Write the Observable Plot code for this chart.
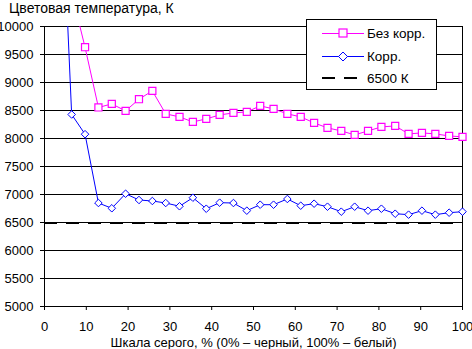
<!DOCTYPE html>
<html>
<head>
<meta charset="utf-8">
<script src="https://cdn.jsdelivr.net/npm/d3@7"></script>
<script src="https://cdn.jsdelivr.net/npm/@observablehq/plot@0.6"></script>
<style>
  html, body { margin: 0; padding: 0; background: #fff; }
  #wrap { position: relative; width: 472px; height: 349px; font-family: "Liberation Sans", Arial, sans-serif; color: #000; }
  #title { height: 16px; line-height: 16px; font-size: 14px; padding-left: 9px; white-space: nowrap; }
  #legend { position: absolute; left: 306px; top: 19px; width: 129px; height: 69px; border: 1px solid #000; background: #fff; }
  .row { position: absolute; left: 0; height: 20px; display: flex; align-items: center; font-size: 13.5px; white-space: nowrap; }
  .row svg { margin-left: 15px; margin-right: 3px; }
</style>
</head>
<body>
<div id="wrap">
  <div id="title">Цветовая температура, К</div>
  <div id="chart"></div>
  <div id="legend"></div>
</div>
<script>
// Gray level, %
const grayLevels = [0, 3.2, 6.5, 9.7, 12.9, 16.1, 19.4, 22.6, 25.8, 29.0, 32.3, 35.5, 38.7, 41.9, 45.2, 48.4,
  51.6, 54.8, 58.1, 61.3, 64.5, 67.7, 71.0, 74.2, 77.4, 80.6, 83.9, 87.1, 90.3, 93.5, 96.8, 100];
// Без корр.
const noCorr = [null, null, 10600, 9630, 8554, 8618, 8493, 8702, 8850, 8440, 8386, 8296, 8350, 8421, 8457, 8475,
  8582, 8529, 8440, 8386, 8279, 8189, 8136, 8064, 8136, 8207, 8225, 8082, 8100, 8082, 8046, 8029];
// Корр.
const corr = [null, 14000, 8429, 8077, 6848, 6754, 7014, 6902, 6884, 6848, 6790, 6943, 6746, 6854, 6848, 6711,
  6818, 6818, 6920, 6800, 6836, 6782, 6693, 6782, 6711, 6746, 6657, 6640, 6711, 6640, 6675, 6693];
const reference = [6500];
const seriesNames = ["Без корр.", "Корр.", "6500 К"];
const xTicks = [0, 10, 20, 30, 40, 50, 60, 70, 80, 90, 100];
const yTicks = [5000, 5500, 6000, 6500, 7000, 7500, 8000, 8500, 9000, 9500, 10000];
const xLabel = "Шкала серого, % (0% – черный, 100% – белый)";

const rowsA = grayLevels.map((x, i) => ({x, y: noCorr[i]}));
const rowsB = grayLevels.map((x, i) => ({x, y: corr[i]}));
const inside = d => d.y != null && d.y <= 10000;

const chart = Plot.plot({
  width: 472,
  height: 333,
  marginTop: 10,
  marginLeft: 44,
  marginRight: 10,
  marginBottom: 43,
  style: {fontFamily: "'Liberation Sans', Arial, sans-serif", fontSize: "13px", color: "#000", background: "#fff", overflow: "visible"},
  x: {domain: [0, 100]},
  y: {domain: [5000, 10000]},
  marks: [
    Plot.gridY(yTicks.slice(1), {stroke: "#000", strokeOpacity: 1, strokeWidth: 1}),
    Plot.ruleY(reference, {stroke: "#000", strokeWidth: 2, strokeDasharray: "13,9", dy: 0.5}),
    Plot.ruleX([0], {stroke: "#000"}),
    Plot.ruleX([100], {stroke: "#000"}),
    Plot.ruleY([5000], {stroke: "#000"}),
    Plot.axisY({ticks: yTicks, tickSize: 4, tickPadding: 7, tickFormat: d3.format("d"), label: null}),
    Plot.axisX({ticks: xTicks, tickSize: 4, tickPadding: 11, tickFormat: d3.format("d"), label: xLabel, labelAnchor: "center", labelOffset: 40, labelArrow: "none"}),
    Plot.line(rowsA, {x: "x", y: "y", stroke: "#ff00ff", strokeWidth: 1, clip: true}),
    Plot.line(rowsB, {x: "x", y: "y", stroke: "#0000ff", strokeWidth: 1, clip: true}),
    Plot.dot(rowsA, {filter: inside, x: "x", y: "y", symbol: "square", r: 4, stroke: "#ff00ff", strokeWidth: 1.2, fill: "#fff"}),
    Plot.dot(rowsB, {filter: inside, x: "x", y: "y", symbol: "diamond2", r: 3.4, stroke: "#0000ff", strokeWidth: 1, fill: "#fff"})
  ]
});
document.getElementById("chart").appendChild(chart);

// legend
const legend = document.getElementById("legend");
const swatches = [
  `<svg width="42" height="12"><line x1="0" x2="42" y1="6.5" y2="6.5" stroke="#ff00ff"/><rect x="17" y="2" width="8" height="8" fill="#fff" stroke="#ff00ff" stroke-width="1.2"/></svg>`,
  `<svg width="42" height="12"><line x1="0" x2="42" y1="6.5" y2="6.5" stroke="#0000ff"/><path d="M21,2L25.5,6.5L21,11L16.5,6.5Z" fill="#fff" stroke="#0000ff"/></svg>`,
  `<svg width="42" height="12"><line x1="0" x2="42" y1="6" y2="6" stroke="#000" stroke-width="2" stroke-dasharray="13,9"/></svg>`
];
const tops = [3, 26, 48];
seriesNames.forEach((name, i) => {
  const row = document.createElement("div");
  row.className = "row";
  row.style.top = tops[i] + "px";
  row.innerHTML = swatches[i] + `<span>${name}</span>`;
  legend.appendChild(row);
});
</script>
</body>
</html>
